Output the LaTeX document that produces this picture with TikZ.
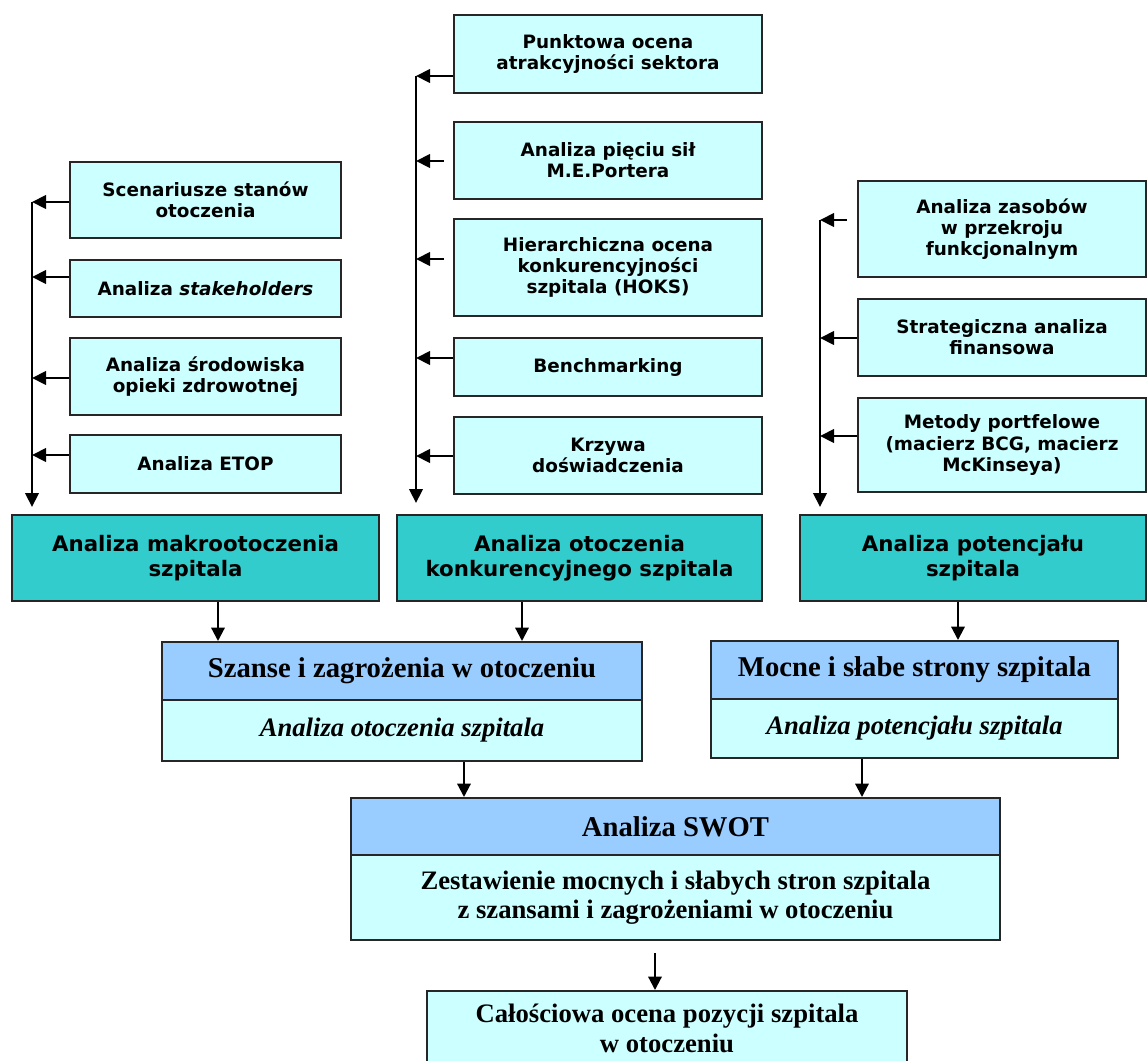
\documentclass[tikz,border=0pt]{standalone}
\usepackage{fontspec}
\setmainfont{Liberation Serif}
\newfontfamily\verd{DejaVu Sans}
\usetikzlibrary{arrows.meta}
\definecolor{lcyan}{HTML}{CCFFFF}
\definecolor{tealc}{HTML}{33CCCC}
\definecolor{lblue}{HTML}{99CCFF}
\newcommand\mybox[7]{\node[#6, minimum width={(#4-#2)*0.75pt}, minimum height={(#5-#3)*0.75pt}] (#1) at ({(#2+#4)/2},{(#3+#5)/2}) {#7};}
\begin{document}
\begin{tikzpicture}[x=0.75pt,y=-0.75pt,
  base/.style={draw=black!85, line width=1.5pt, inner sep=0pt, align=center},
  smallbox/.style={base, fill=lcyan, font=\verd\bfseries\fontsize{13.8}{15.8}\selectfont},
  tealbox/.style={base, fill=tealc, font=\verd\bfseries\fontsize{16}{18.75}\selectfont},
  hdrbox/.style={base, fill=lblue, font=\bfseries\fontsize{21.5}{22}\selectfont},
  bodybox/.style={base, fill=lcyan, font=\bfseries\itshape\fontsize{20}{21}\selectfont},
  swbox/.style={base, fill=lcyan, font=\bfseries\fontsize{20}{22}\selectfont},
  arr/.style={-{Triangle[length=10.5pt,width=10pt]}, line width=2.2pt},
  arrb/.style={-{Triangle[length=10pt,width=10pt]}, line width=1.6pt}]
\useasboundingbox (0,0) rectangle (1147,1061);
% left column
\mybox{sc}{70}{162}{341}{238}{smallbox}{Scenariusze stanów\\otoczenia}
\mybox{st}{70}{260}{341}{317}{smallbox}{Analiza \textit{stakeholders}}
\mybox{sr}{70}{338}{341}{415}{smallbox}{Analiza środowiska\\opieki zdrowotnej}
\mybox{et}{70}{435}{341}{493}{smallbox}{Analiza ETOP}
% middle column
\mybox{pk}{454}{15}{762}{93}{smallbox}{Punktowa ocena\\atrakcyjności sektora}
\mybox{ps}{454}{122}{762}{199}{smallbox}{Analiza pięciu sił\\M.E.Portera}
\mybox{hi}{454}{219}{762}{316}{smallbox}{Hierarchiczna ocena\\konkurencyjności\\szpitala (HOKS)}
\mybox{be}{454}{338}{762}{396}{smallbox}{Benchmarking}
\mybox{kr}{454}{417}{762}{494}{smallbox}{Krzywa\\doświadczenia}
% right column
\mybox{za}{858}{181}{1146}{277}{smallbox}{Analiza zasobów\\w przekroju\\funkcjonalnym}
\mybox{sa}{858}{299}{1146}{376}{smallbox}{Strategiczna analiza\\finansowa}
\mybox{mp}{858}{398}{1146}{492}{smallbox}{Metody portfelowe\\(macierz BCG, macierz\\McKinseya)}
% teal row
\mybox{tl}{12}{515}{379}{601}{tealbox}{Analiza makrootoczenia\\szpitala}
\mybox{tm}{397}{515}{762}{601}{tealbox}{Analiza otoczenia\\konkurencyjnego szpitala}
\mybox{tr}{800}{515}{1146}{601}{tealbox}{Analiza potencjału\\szpitala}
% blue row
\mybox{szh}{162}{642}{642}{700}{hdrbox}{Szanse i zagrożenia w otoczeniu}
\mybox{szb}{162}{700}{642}{761}{bodybox}{Analiza otoczenia szpitala}
\mybox{mch}{711}{641}{1118}{699}{hdrbox}{Mocne i słabe strony szpitala}
\mybox{mcb}{711}{699}{1118}{758}{bodybox}{Analiza potencjału szpitala}
% SWOT
\mybox{swh}{351}{798}{1000}{855}{hdrbox}{Analiza SWOT}
\mybox{swb}{351}{855}{1000}{940}{swbox}{Zestawienie mocnych i słabych stron szpitala\\z szansami i zagrożeniami w otoczeniu}
\mybox{fin}{427}{991}{907}{1066}{swbox}{Całościowa ocena pozycji szpitala\\w otoczeniu}
% left column connectors
\coordinate (L0) at (32,202);
\coordinate (L1) at (32,507);
\draw[arr] (L0) -- (L1);
\draw[arr] (sc.west |- 0,202) -- (L0);
\draw[arr] (st.west |- 0,277) -- (L0 |- 0,277);
\draw[arr] (sr.west |- 0,378) -- (L0 |- 0,378);
\draw[arr] (et.west |- 0,455) -- (L0 |- 0,455);
% middle column connectors
\coordinate (M0) at (416,76);
\coordinate (M1) at (416,503);
\draw[arr] (M0) -- (M1);
\draw[arr] (pk.west |- 0,76) -- (M0);
\draw[arr, shorten <=6.75pt] (ps.west |- 0,161) -- (M0 |- 0,161);
\draw[arr, shorten <=6.75pt] (hi.west |- 0,259) -- (M0 |- 0,259);
\draw[arr] (be.west |- 0,358) -- (M0 |- 0,358);
\draw[arr] (kr.west |- 0,456) -- (M0 |- 0,456);
% right column connectors
\coordinate (R0) at (820,220);
\coordinate (R1) at (820,507);
\draw[arr] (R0) -- (R1);
\draw[arr, shorten <=7.5pt] (za.west |- 0,220) -- (R0);
\draw[arr] (sa.west |- 0,338) -- (R0 |- 0,338);
\draw[arr] (mp.west |- 0,436) -- (R0 |- 0,436);
% lower connectors
\draw[arrb] (tl.south -| 218,0) -- (szh.north -| 218,0);
\draw[arrb] (tm.south -| 522,0) -- (szh.north -| 522,0);
\draw[arrb] (tr.south -| 958,0) -- (mch.north -| 958,0);
\draw[arrb] (szb.south -| 464,0) -- (swh.north -| 464,0);
\draw[arrb] (mcb.south -| 862,0) -- (swh.north -| 862,0);
\draw[arrb, shorten <=9pt] (swb.south -| 655,0) -- (fin.north -| 655,0);
\end{tikzpicture}
\end{document}
